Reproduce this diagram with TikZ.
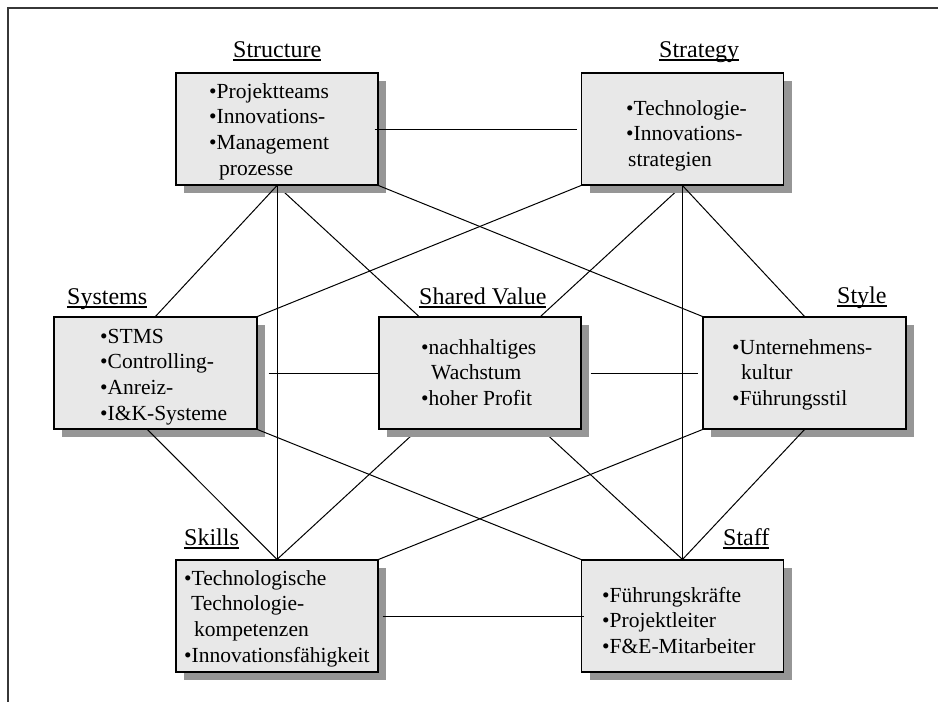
\documentclass[tikz,border=0pt]{standalone}
\usepackage{fontspec}
\setmainfont{Liberation Serif}
\usetikzlibrary{shadows}
\definecolor{boxfill}{RGB}{232,232,232}
\definecolor{shadowgray}{RGB}{150,150,150}
\definecolor{framegray}{RGB}{55,55,55}
% underlined heading text
\newsavebox{\ulbox}
\newcommand{\ulabel}[1]{\sbox{\ulbox}{#1}\rlap{\rule[-3.6pt]{\wd\ulbox}{1.3pt}}\usebox{\ulbox}}
% box contents: baseline of the node is the first line
\newcommand{\boxlines}[1]{\parbox[t]{230pt}{\raggedright\fontsize{21.5}{25.7}\selectfont #1}}
\pgfdeclarelayer{background}
\pgfsetlayers{background,main}

\begin{document}
\begin{tikzpicture}[x=1pt,y=-1pt,
  sbox/.style={draw=black, line width=1.1pt, fill=boxfill, minimum width=202pt,
    minimum height=112pt, inner sep=0pt,
    drop shadow={shadow xshift=8pt, shadow yshift=-8pt, fill=shadowgray, opacity=1}},
  btext/.style={anchor=base west, inner sep=0pt},
  slabel/.style={anchor=base west, inner sep=0pt, font=\fontsize{24}{28}\selectfont},
  link/.style={line width=1pt, black}]
\useasboundingbox (0,0) rectangle (938,702);

% frame
\draw[line width=1.5pt, framegray] (8,702) -- (8,8) -- (938,8);

% the seven S boxes
\node[sbox] (st) at (277,129) {};
\node[sbox] (sg) at (682.5,129) {};
\node[sbox, minimum width=203pt] (sy) at (155.5,373) {};
\node[sbox] (sv) at (480,373) {};
\node[sbox, minimum width=203pt] (sl) at (804.5,373) {};
\node[sbox] (sk) at (277,616) {};
\node[sbox] (sf) at (682.5,616) {};

% box contents
\node[btext] (stT) at (209,98) {\boxlines{•Projektteams\\•Innovations-\\•Management\\\hspace*{10pt}prozesse}};
\node[btext] (sgT) at (626,115) {\boxlines{•Technologie-\\•Innovations-\\\hspace*{2pt}strategien}};
\node[btext] (syT) at (100,343) {\boxlines{•STMS\\•Controlling-\\•Anreiz-\\•I\&K-Systeme}};
\node[btext] (svT) at (421,354) {\boxlines{•nachhaltiges\\\hspace*{10pt}Wachstum\\•hoher Profit}};
\node[btext] (slT) at (732,354) {\boxlines{•Unternehmens-\\\hspace*{9pt}kultur\\•Führungsstil}};
\node[btext] (skT) at (184,585) {\boxlines{•Technologische\\\hspace*{7pt}Technologie-\\\hspace*{10pt}kompetenzen\\•Innovationsfähigkeit}};
\node[btext] (sfT) at (602,602) {\boxlines{•Führungskräfte\\•Projektleiter\\•F\&E-Mitarbeiter}};

% headings
\node[slabel] (stL) at (233,57) {\ulabel{Structure}};
\node[slabel] (sgL) at (659,57) {\ulabel{Strategy}};
\node[slabel] (syL) at (67,304) {\ulabel{Systems}};
\node[slabel] (svL) at (419,304) {\ulabel{Shared Value}};
\node[slabel] (slL) at (837,303) {\ulabel{Style}};
\node[slabel] (skL) at (184,545) {\ulabel{Skills}};
\node[slabel] (sfL) at (723,545) {\ulabel{Staff}};

% long diagonals running behind the central box
\begin{pgfonlayer}{background}
\draw[link] (st.south) -- (sf.north);
\draw[link] (sg.south) -- (sk.north);
\end{pgfonlayer}

% remaining connections
\draw[link] ([xshift=-4pt]st.east) -- ([xshift=-4pt]sg.west);
\draw[link] (st.south) -- (sy.north);
\draw[link] (st.south) -- (sk.north);
\draw[link] (st.south east) -- (sl.north west);
\draw[link] (sg.south) -- (sf.north);
\draw[link] (sg.south) -- (sl.north);
\draw[link] (sg.south west) -- (sy.north east);
\draw[link] ([xshift=11pt]sy.east) -- (sv.west);
\draw[link] ([xshift=9pt]sv.east) -- ([xshift=-4pt]sl.west);
\draw[link] ([xshift=-8pt]sy.south) -- (sk.north);
\draw[link] (sy.south east) -- (sf.north west);
\draw[link] (sl.south west) -- (sk.north east);
\draw[link] (sl.south) -- (sf.north);
\draw[link] ([xshift=4pt]sk.east) -- ([xshift=3pt]sf.west);
\end{tikzpicture}
\end{document}
